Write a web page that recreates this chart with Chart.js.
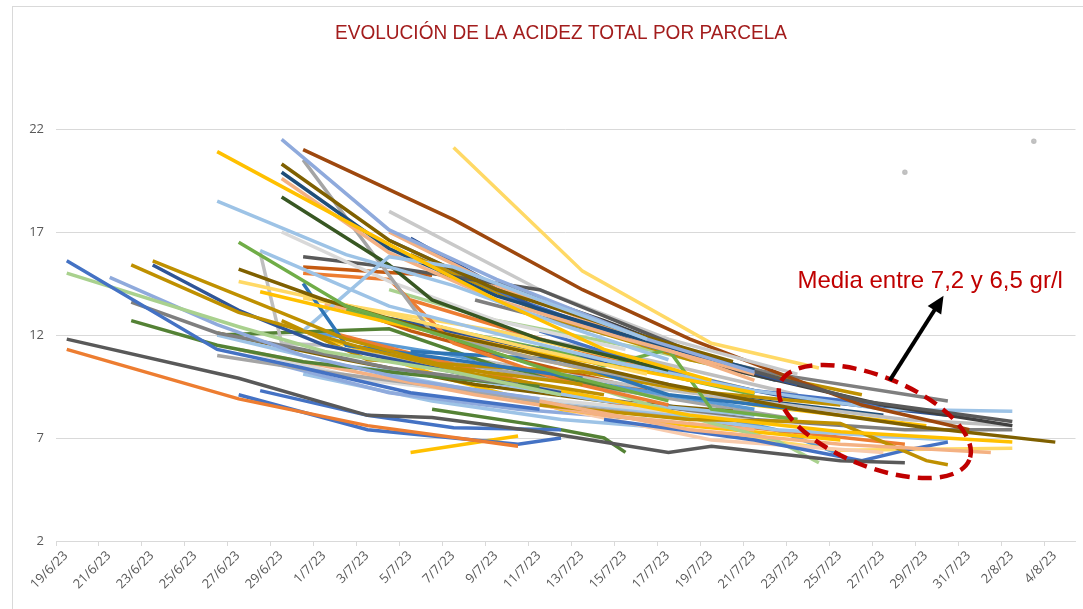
<!DOCTYPE html>
<html>
<head>
<meta charset="utf-8">
<script src="https://cdn.jsdelivr.net/npm/chart.js@4.4.0/dist/chart.umd.min.js"></script>
<style>html,body{margin:0;padding:0;background:#fff}canvas{display:block}</style>
</head>
<body>
<canvas id="acidezChart" width="1083" height="609"></canvas>
<script>
// dias contados desde el 19/6/23, acidez total en g/l
const titulo = "EVOLUCIÓN DE LA ACIDEZ TOTAL POR PARCELA";
const nota = "Media entre 7,2 y 6,5 gr/l";
const ticksY = [2, 7, 12, 17, 22];

const p01 = [[0, 11.3], [8, 8.9], [14, 7.6], [21, 6.6]];
const p02 = [[0, 11.8], [8, 9.9], [14, 8.1], [17, 8.0], [22, 7.3], [28, 6.3], [30, 6.6], [36, 5.9], [39, 5.8]];
const p03 = [[0, 15.6], [7, 11.3], [11, 10.4], [16, 9.2], [22, 8.4]];
const p04 = [[0, 15.0], [8, 12.4], [12, 11.2], [18, 10.2], [23, 9.1]];
const p05 = [[2, 14.8], [7, 12.5], [11, 11.0], [16, 9.8], [22, 8.9]];
const p06 = [[3, 13.6], [7, 12.1], [11, 11.3], [15, 10.4], [21, 9.6]];
const p07 = [[3, 12.7], [7, 11.5], [11, 10.7], [16, 10.1], [22, 9.5]];
const p08 = [[3, 15.4], [8, 13.1], [14, 11.3], [19, 10.1], [25, 9.1]];
const p09 = [[4, 15.4], [8, 13.2], [12, 11.5], [18, 10.2], [23, 9.2]];
const p10 = [[4, 15.6], [9, 13.5], [13, 11.8], [18, 10.4], [24, 9.6]];
const p11 = [[7, 20.9], [15, 16.4], [20, 13.7], [25, 11.3], [30, 9.8]];
const p12 = [[7, 18.5], [13, 15.9], [18, 14.4], [23, 12.5], [28, 10.8]];
const p13 = [[8, 16.5], [13, 13.4], [18, 11.8], [23, 10.1], [28, 8.8]];
const p14 = [[8, 15.2], [12, 13.7], [17, 12.2], [23, 10.8], [28, 9.6], [34, 8.4], [40, 7.5], [46, 6.8]];
const p15 = [[8, 14.6], [15, 13.0], [21, 11.5], [27, 10.1]];
const p16 = [[9, 14.1], [15, 12.6], [21, 11.3], [27, 10.2], [32, 9.2]];
const p17 = [[9, 16.0], [10, 11.6], [12, 11.5], [17, 10.5], [23, 9.3]];
const p18 = [[9, 16.1], [15, 13.4], [21, 11.8], [27, 10.3]];
const p19 = [[11, 14.5], [13, 11.5], [18, 10.8], [24, 9.9]];
const p20 = [[11, 12.2], [15, 15.8], [18, 15.3], [22, 13.7], [27, 11.8]];
const p21 = [[10, 21.5], [15, 17.1], [20, 14.7], [27, 11.8], [32, 10.2]];
const p22 = [[10, 20.3], [15, 16.6], [20, 14.2], [26, 12.2], [31, 10.7]];
const p23 = [[10, 19.9], [15, 16.2], [20, 13.9], [26, 12.0], [32, 10.3]];
const p24 = [[10, 19.6], [15, 16.0], [20, 13.7], [26, 11.8], [32, 10.1]];
const p25 = [[10, 18.7], [15, 15.4], [17, 13.7], [22, 11.8], [28, 10.3]];
const p26 = [[11, 20.5], [17, 12.1], [22, 10.8], [28, 9.6]];
const p27 = [[10, 17.0], [15, 14.6], [20, 12.7], [26, 11.3]];
const p28 = [[11, 15.8], [15, 15.3], [22, 14.2], [30, 10.8], [37, 8.8], [44, 7.8]];
const p29 = [[11, 15.3], [17, 14.9]];
const p30 = [[11, 15.0], [15, 14.7], [18, 11.6], [23, 9.8], [28, 8.6]];
const p31 = [[15, 18.0], [22, 14.2], [28, 11.8], [34, 10.1]];
const p32 = [[15, 17.0], [20, 14.4], [26, 12.0], [32, 9.8]];
const p33 = [[16, 16.7], [22, 13.2], [28, 11.3], [34, 9.6]];
const p34 = [[18, 21.1], [24, 15.1], [30, 11.6], [35, 10.4]];
const p35 = [[11, 21.0], [18, 17.6], [24, 14.2], [29, 11.8], [32, 10.6], [37, 8.6], [42, 7.4]];
const p36 = [[18, 15.2], [25, 12.7], [31, 10.3], [38, 8.6], [44, 7.6]];
const p37 = [[25, 10.8], [32, 9.3], [38, 8.4], [44, 8.3]];
const p38 = [[23, 9.3], [29, 8.1], [36, 7.3], [44, 6.8]];
const p39 = [[22, 8.8], [29, 7.4], [36, 6.7], [43, 6.3]];
const p40 = [[22, 8.6], [29, 7.9], [34, 7.8], [36, 7.7], [40, 5.9], [41, 5.7]];
const p41 = [[25, 7.9], [32, 6.9], [37, 5.9], [39, 6.4], [41, 6.8]];
const p42 = [[8, 9.1], [14, 7.4], [21, 6.7], [23, 7.0]];
const p43 = [[9, 9.3], [14, 8.1], [18, 7.5], [23, 7.4]];
const p44 = [[16, 6.3], [21, 7.1]];
const p45 = [[22, 11.5], [25, 10.5], [28, 11.3], [30, 8.4], [34, 7.9]];
const p46 = [[25, 9.3], [29, 8.0], [33, 6.9], [35, 5.8]];
const p47 = [[17, 8.4], [22, 7.6], [25, 7.0], [26, 6.3]];
const p48 = [[8, 11.3], [13, 10.3], [19, 9.1], [25, 8.1], [32, 7.4]];
const p49 = [[7, 11.0], [12, 10.2], [18, 9.4], [23, 8.6], [29, 7.9]];
const p50 = [[7, 12.0], [13, 10.5], [19, 9.8], [25, 8.8], [32, 8.1]];
const p51 = [[16, 11.2], [23, 10.8], [28, 9.1], [34, 8.4]];
const p52 = [[10, 12.7], [14, 10.8], [24, 10.2], [29, 9.3], [36, 8.6]];
const p53 = [[7, 12.1], [13, 10.8], [19, 9.6], [25, 8.8], [31, 8.3]];
const p54 = [[7, 12.0], [15, 12.3], [20, 10.5], [26, 9.3]];
const p55 = [[11, 12.2], [18, 9.8], [23, 8.4], [29, 7.6], [36, 6.9]];
const p56 = [[8, 11.3], [14, 9.8], [20, 9.1], [27, 8.4], [34, 7.6]];
const p57 = [[13, 10.5], [19, 9.3], [26, 8.4], [33, 7.4], [41, 6.9]];
const p58 = [[12, 12.2], [19, 10.3], [25, 8.8], [31, 7.6], [39, 6.7]];
const p59 = [[23, 8.4], [30, 6.9], [38, 6.3]];
const p60 = [[22, 12.2], [27, 10.5], [32, 9.3], [38, 8.6]];
const p61 = [[15, 12.8], [21, 11.5], [28, 10.1], [34, 8.9], [41, 8.1]];
const p62 = [[19, 10.8], [26, 9.6], [32, 8.8], [39, 7.9], [44, 7.6]];
const p63 = [[25, 8.9], [32, 7.9], [39, 7.4], [44, 7.4]];
const p64 = [[29, 7.4], [36, 6.4], [44, 6.5]];
const p65 = [[27, 8.8], [33, 7.4], [36, 6.2]];
const p66 = [[11, 13.8], [20, 12.2], [26, 10.8], [32, 9.3]];
const p67 = [[39, 19.9]];
const p68 = [[45, 21.4]];
const p69 = [[15, 16.6], [21, 13.7], [27, 11.5], [33, 9.8]];
const p70 = [[16, 15.9], [23, 12.7], [29, 10.8], [37, 9.1]];
const p71 = [[15, 14.2], [20, 12.7], [27, 11.3], [33, 9.8]];
const p72 = [[16, 13.7], [23, 11.5], [29, 9.8]];
const p73 = [[13, 13.2], [19, 12.0], [26, 10.5], [32, 9.1]];
const p74 = [[12, 13.5], [19, 11.8], [25, 10.3], [31, 8.8]];
const p75 = [[11, 12.2], [18, 11.0], [25, 9.6], [32, 8.4]];
const p76 = [[14, 11.3], [20, 10.3], [27, 9.1], [34, 7.9]];
const p77 = [[17, 12.5], [24, 10.5], [30, 9.1], [38, 8.1]];
const p78 = [[18, 11.8], [25, 10.1], [32, 8.6], [40, 7.6]];
const p79 = [[19, 13.7], [26, 11.8], [33, 10.1], [41, 8.8]];
const p80 = [[12, 13.7], [16, 12.2], [21, 10.8], [27, 9.3]];
const p81 = [[20, 12.2], [27, 10.8], [34, 9.1]];
const p82 = [[9, 10.8], [15, 9.2], [21, 8.4], [27, 7.9]];
const p83 = [[11, 10.1], [17, 8.8], [23, 7.9], [29, 7.4]];

const parcelas = [p01, p02, p03, p04, p05, p06, p07, p08, p09, p10, p11, p12, p13, p14, p15, p16, p17,
  p18, p19, p20, p21, p22, p23, p24, p25, p26, p27, p28, p29, p30, p31, p32, p33, p34, p35, p36, p37,
  p38, p39, p40, p41, p42, p43, p44, p45, p46, p47, p48, p49, p50, p51, p52, p53, p54, p55, p56, p57,
  p58, p59, p60, p61, p62, p63, p64, p65, p66, p67, p68, p69, p70, p71, p72, p73, p74, p75, p76, p77,
  p78, p79, p80, p81, p82, p83];

const colores = ["#ED7D31", "#595959", "#4472C4", "#A9D18E", "#8FAADC", "#7F7F7F", "#548235", "#BF9000",
  "#2F5597", "#BF9000", "#FFC000", "#9DC3E6", "#70AD47", "#7F6000", "#FFD966", "#FFC000", "#BFBFBF",
  "#9DC3E6", "#2E75B6", "#9DC3E6", "#8FAADC", "#7F6000", "#1F4E79", "#F4B183", "#385723", "#A5A5A5",
  "#D9D9D9", "#595959", "#C55A11", "#ED7D31", "#C9C9C9", "#F4B183", "#2F5597", "#FFD966", "#9E480E",
  "#404040", "#9DC3E6", "#FFC000", "#F4B183", "#BF9000", "#4472C4", "#4472C4", "#4472C4", "#FFC000",
  "#70AD47", "#A9D18E", "#548235", "#F4B183", "#A5A5A5", "#9DC3E6", "#2E75B6", "#BF9000", "#7F6000",
  "#548235", "#FFC000", "#D9D9D9", "#9DC3E6", "#ED7D31", "#F8CBAD", "#4472C4", "#2F5597", "#BFBFBF",
  "#7F7F7F", "#FFD966", "#5B9BD5", "#FFD966", "#BFBFBF", "#BFBFBF", "#4472C4", "#BF9000", "#A9D18E",
  "#ED7D31", "#70AD47", "#F4B183", "#5B9BD5", "#A5A5A5", "#1F4E79", "#FFC000", "#7F7F7F", "#C55A11",
  "#BFBFBF", "#8FAADC", "#9DC3E6"];

function fecha(dia) {
  const d = new Date(2023, 5, 19 + Math.round(dia));
  return d.getDate() + "/" + (d.getMonth() + 1) + "/23";
}

const decoracion = {
  id: "decoracion",
  afterDraw(chart) {
    const { ctx, scales: { x, y } } = chart;
    ctx.save();
    ctx.strokeStyle = "#D9D9D9";
    ctx.lineWidth = 1;
    ctx.strokeRect(12.5, 6.5, 1200, 800);

    ctx.save();
    ctx.fillStyle = "#A31D1D";
    ctx.font = '20px "Liberation Sans", sans-serif';
    ctx.textAlign = "center";
    ctx.textBaseline = "middle";
    const w = ctx.measureText(titulo).width;
    ctx.translate(561, 33);
    ctx.scale(452 / w, 1.05);
    ctx.fillText(titulo, 0, 0);
    ctx.restore();

    ctx.beginPath();
    ctx.ellipse(x.getPixelForValue(37.6), y.getPixelForValue(7.8), 102, 45, 22 * Math.PI / 180, 0, 2 * Math.PI);
    ctx.setLineDash([14, 8]);
    ctx.lineWidth = 4.5;
    ctx.strokeStyle = "#C00000";
    ctx.stroke();
    ctx.setLineDash([]);

    const x0 = x.getPixelForValue(38.3), y0 = y.getPixelForValue(9.8);
    const x1 = x.getPixelForValue(40.8), y1 = y.getPixelForValue(13.9);
    const a = Math.atan2(y1 - y0, x1 - x0);
    const c = Math.cos(a), s = Math.sin(a);
    ctx.strokeStyle = "#000";
    ctx.lineWidth = 4;
    ctx.beginPath();
    ctx.moveTo(x0, y0);
    ctx.lineTo(x1 - 12 * c, y1 - 12 * s);
    ctx.stroke();
    ctx.beginPath();
    ctx.moveTo(x1, y1);
    ctx.lineTo(x1 - 17 * c + 8 * s, y1 - 17 * s - 8 * c);
    ctx.lineTo(x1 - 17 * c - 8 * s, y1 - 17 * s + 8 * c);
    ctx.closePath();
    ctx.fillStyle = "#000";
    ctx.fill();

    ctx.fillStyle = "#C00000";
    ctx.font = '24px "Liberation Sans", Arial, sans-serif';
    ctx.textAlign = "left";
    ctx.textBaseline = "alphabetic";
    ctx.fillText(nota, x.getPixelForValue(34.0), y.getPixelForValue(14.3));
    ctx.restore();
  }
};

const ctx = document.getElementById("acidezChart").getContext("2d");
new Chart(ctx, {
  type: "line",
  data: {
    datasets: parcelas.map((p, i) => ({
      data: p,
      borderColor: colores[i],
      backgroundColor: colores[i],
      borderWidth: 3.5,
      pointRadius: p.length === 1 ? 1 : 0,
      tension: 0,
      fill: false
    }))
  },
  options: {
    responsive: false,
    animation: false,
    events: [],
    layout: { padding: { top: 129, left: 0, right: 0, bottom: 0 } },
    plugins: { legend: { display: false }, tooltip: { enabled: false }, title: { display: false } },
    scales: {
      x: {
        type: "linear",
        min: -0.5,
        max: 46.94,
        afterBuildTicks: (s) => {
          const t = [];
          for (let k = 0; k <= 23; k++) t.push({ value: -0.5 + 2 * k });
          s.ticks = t;
        },
        afterFit: (s) => { s.height = 68; },
        ticks: {
          autoSkip: false,
          minRotation: 45,
          maxRotation: 45,
          labelOffset: 10,
          padding: 2,
          color: "#595959",
          font: { family: "'Open Sans', sans-serif", size: 13 },
          callback: (v) => fecha(v + 0.5)
        },
        grid: { drawOnChartArea: false, drawTicks: true, tickLength: 5, color: "#D9D9D9" },
        border: { display: true, color: "#D9D9D9" }
      },
      y: {
        min: 2,
        max: 22,
        afterBuildTicks: (s) => { s.ticks = ticksY.map((v) => ({ value: v })); },
        afterFit: (s) => { s.width = 56; },
        ticks: {
          padding: 12,
          color: "#595959",
          font: { family: "'Open Sans', sans-serif", size: 13 }
        },
        grid: { color: "#D9D9D9", drawTicks: false },
        border: { display: false }
      }
    }
  },
  plugins: [decoracion]
});
</script>
</body>
</html>
